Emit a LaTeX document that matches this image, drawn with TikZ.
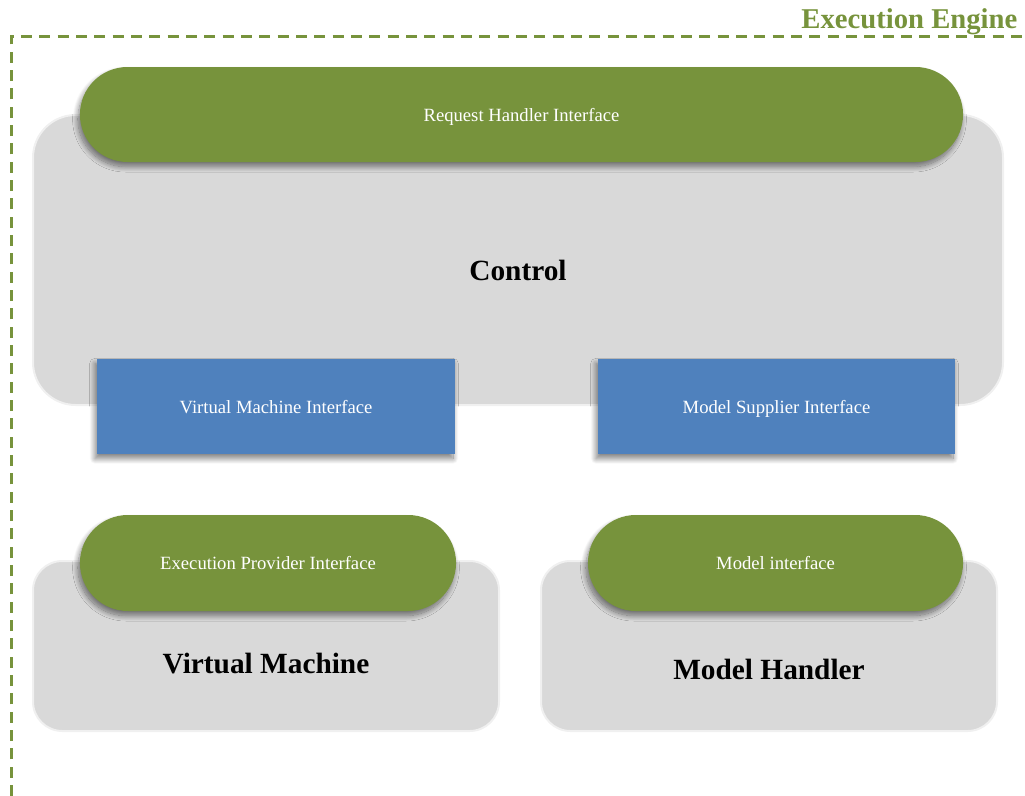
\documentclass[tikz,border=0pt]{standalone}
\usepackage{fontspec}
\setmainfont{Liberation Serif}
\usetikzlibrary{positioning}
\usetikzlibrary{shapes.misc}
\usetikzlibrary{shadows.blur}

\definecolor{enginegreen}{HTML}{77933C}
\definecolor{ifaceblue}{HTML}{4F81BD}
\definecolor{blockgray}{HTML}{D9D9D9}
\definecolor{blockedge}{HTML}{F0F0F0}

\begin{document}
\begin{tikzpicture}[x=0.75pt, y=0.75pt,
                softshadow/.style={blur shadow={shadow xshift=-1.5pt, shadow yshift=-3.5pt, shadow blur radius=4pt, shadow blur steps=14, shadow opacity=50}},
                graysquarednode/.style={rectangle, rounded corners=22pt, fill=blockgray, draw=blockedge, line width=1.5pt},
                greenpillnode/.style={rounded rectangle, fill=enginegreen, text=white, text depth=0pt, font=\fontsize{14}{17}\selectfont, softshadow},
                bluesquarednode/.style={rectangle, fill=ifaceblue, text=white, text depth=0pt, font=\fontsize{14}{17}\selectfont, softshadow},
                blocktitle/.style={font=\fontsize{22}{26}\selectfont\bfseries},
                ]
                \useasboundingbox (0,0) rectangle (1025,-796);

                % engine frame and its title
                \draw[enginegreen, line width=2.25pt, dash pattern=on 8.25pt off 5.5pt] (11,-796) |- (1025,-36);
                \node[anchor=base east, text=enginegreen, font=\fontsize{21.5}{25}\selectfont\bfseries] (enginetitle) at (1022,-28) {Execution Engine};

                % control block
                \node[graysquarednode, rounded corners=32pt, minimum width=727.5pt, minimum height=217.5pt] (control) at (518,-260) {};
                \node[blocktitle] (controltitle) at (518,-270) {Control};
                \node[greenpillnode, minimum width=669pt, minimum height=71.25pt] (request) at (521.5,-114.5) {Request Handler Interface};
                \node[bluesquarednode, minimum width=268.5pt, minimum height=71.25pt] (vminterface) at (276,-406.5) {Virtual Machine Interface};
                \node[bluesquarednode, minimum width=267.75pt, minimum height=71.25pt] (supplier) at (776.5,-406.5) {Model Supplier Interface};

                % virtual machine block
                \node[graysquarednode, minimum width=349.5pt, minimum height=127.5pt] (vm) at (266,-646) {};
                \node[blocktitle] (vmtitle) at (266,-664) {Virtual Machine};
                \node[greenpillnode, minimum width=288.75pt, minimum height=72pt] (provider) at (268,-563) {Execution Provider Interface};

                % model handler block
                \node[graysquarednode, minimum width=342pt, minimum height=127.5pt] (handler) at (769,-646) {};
                \node[blocktitle] (handlertitle) at (769,-669) {Model Handler};
                \node[greenpillnode, minimum width=288pt, minimum height=72pt] (model) at (775.5,-563) {Model interface};
            \end{tikzpicture}
\end{document}
